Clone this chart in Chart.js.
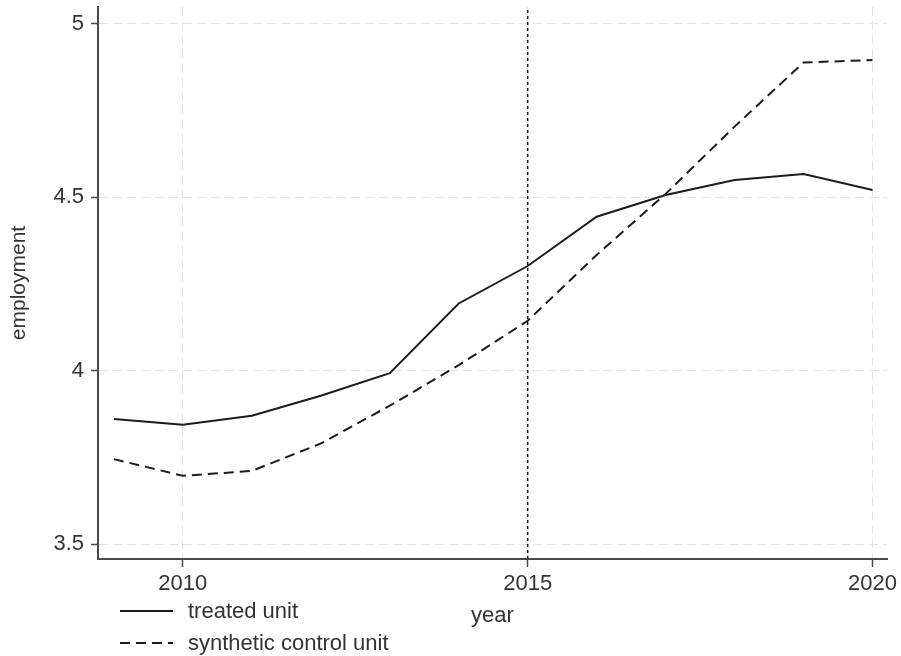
<!DOCTYPE html>
<html>
<head>
<meta charset="utf-8">
<title>employment: treated vs synthetic control</title>
<script src="https://cdn.jsdelivr.net/npm/chart.js@4/dist/chart.umd.min.js"></script>
<style>
  html, body { margin: 0; padding: 0; background: #ffffff; }
  #wrap { position: relative; width: 901px; height: 656px; }
</style>
</head>
<body>
<div id="wrap"><canvas id="chart"></canvas></div>
<script>
// Years observed
const years = [2009, 2010, 2011, 2012, 2013, 2014, 2015, 2016, 2017, 2018, 2019, 2020];

// Employment for the treated unit and its synthetic control
const treatedUnit = [3.861, 3.844, 3.870, 3.928, 3.993, 4.194, 4.302, 4.444, 4.507, 4.550, 4.567, 4.521];
const syntheticControl = [3.745, 3.697, 3.711, 3.790, 3.899, 4.016, 4.144, 4.334, 4.510, 4.704, 4.889, 4.896];

// Treatment year marker
const treatmentYear = 2015;

// Axis ranges and ticks
const xRange = [2008.77, 2020.21];
const yRange = [3.457, 5.049];
const xTickValues = [2010, 2015, 2020];
const yTickValues = [3.5, 4, 4.5, 5];

const seriesLabels = ['treated unit', 'synthetic control unit'];

const FONT = '"Liberation Sans", Arial, Helvetica, sans-serif';
const INK = '#1c1c1c';
const AXIS = '#4a4a4a';
const GRID = '#e2e2e2';

const toPoints = vals => years.map((yr, i) => ({ x: yr, y: vals[i] }));

// Keep the plot box exactly where the layout puts it (no extra room for edge labels)
const noEdgePadding = s => {
  s.paddingTop = 0; s.paddingBottom = 0;
  s.paddingLeft = 0; s.paddingRight = 0;
};

// Legend drawn under the plot, left aligned, two rows
const bottomKey = {
  id: 'bottomKey',
  afterDraw(chart) {
    const ctx = chart.ctx;
    const rows = [611, 643];
    ctx.save();
    ctx.font = '22px ' + FONT;
    ctx.textBaseline = 'middle';
    ctx.textAlign = 'left';
    chart.data.datasets.filter(d => seriesLabels.includes(d.label)).forEach((ds, i) => {
      const y = rows[i];
      ctx.strokeStyle = ds.borderColor;
      ctx.lineWidth = ds.borderWidth;
      ctx.setLineDash(ds.borderDash || []);
      ctx.beginPath();
      ctx.moveTo(120, y);
      ctx.lineTo(173, y);
      ctx.stroke();
      ctx.setLineDash([]);
      ctx.fillStyle = '#333333';
      ctx.fillText(ds.label, 188, y + 1);
    });
    ctx.restore();
  }
};

new Chart(document.getElementById('chart'), {
  type: 'line',
  data: {
    datasets: [
      {
        label: seriesLabels[0],
        data: toPoints(treatedUnit),
        borderColor: INK,
        borderWidth: 2,
        pointRadius: 0,
        tension: 0
      },
      {
        label: seriesLabels[1],
        data: toPoints(syntheticControl),
        borderColor: INK,
        borderWidth: 2,
        borderDash: [10, 6],
        pointRadius: 0,
        tension: 0
      },
      {
        label: 'treatment',
        data: [{ x: treatmentYear, y: yRange[0] }, { x: treatmentYear, y: yRange[1] }],
        borderColor: '#111111',
        borderWidth: 1.5,
        borderDash: [3, 3],
        pointRadius: 0
      }
    ]
  },
  options: {
    responsive: true,
    maintainAspectRatio: false,
    animation: false,
    devicePixelRatio: 1,
    layout: { padding: { top: 7, right: 14, bottom: 0, left: 0 } },
    plugins: {
      legend: { display: false },
      tooltip: { enabled: false }
    },
    scales: {
      x: {
        type: 'linear',
        min: xRange[0],
        max: xRange[1],
        afterBuildTicks: s => { s.ticks = xTickValues.map(v => ({ value: v })); },
        afterFit: s => { s.height = 97; noEdgePadding(s); },
        ticks: {
          font: { family: FONT, size: 22 },
          color: '#333333',
          padding: 4,
          maxRotation: 0,
          autoSkip: false,
          callback: v => String(v)
        },
        grid: {
          color: GRID,
          lineWidth: 1,
          tickLength: 8,
          tickColor: AXIS,
          tickWidth: 1.5,
          tickBorderDash: []
        },
        border: { display: true, color: AXIS, width: 2, dash: [9, 5] },
        title: {
          display: true,
          text: 'year',
          font: { family: FONT, size: 22 },
          color: '#333333',
          padding: { top: 0, bottom: 27 }
        }
      },
      y: {
        type: 'linear',
        min: yRange[0],
        max: yRange[1],
        afterBuildTicks: s => { s.ticks = yTickValues.map(v => ({ value: v })); },
        afterFit: s => { s.width = 98; noEdgePadding(s); },
        ticks: {
          font: { family: FONT, size: 22 },
          color: '#333333',
          padding: 7,
          autoSkip: false,
          callback: v => String(v)
        },
        grid: {
          color: GRID,
          lineWidth: 1,
          tickLength: 7,
          tickColor: AXIS,
          tickWidth: 1.5,
          tickBorderDash: []
        },
        border: { display: true, color: AXIS, width: 2, dash: [9, 5] },
        title: {
          display: true,
          text: 'employment',
          font: { family: FONT, size: 21 },
          color: '#333333',
          padding: { top: 7, bottom: 0 }
        }
      }
    }
  },
  plugins: [bottomKey]
});
</script>
</body>
</html>
